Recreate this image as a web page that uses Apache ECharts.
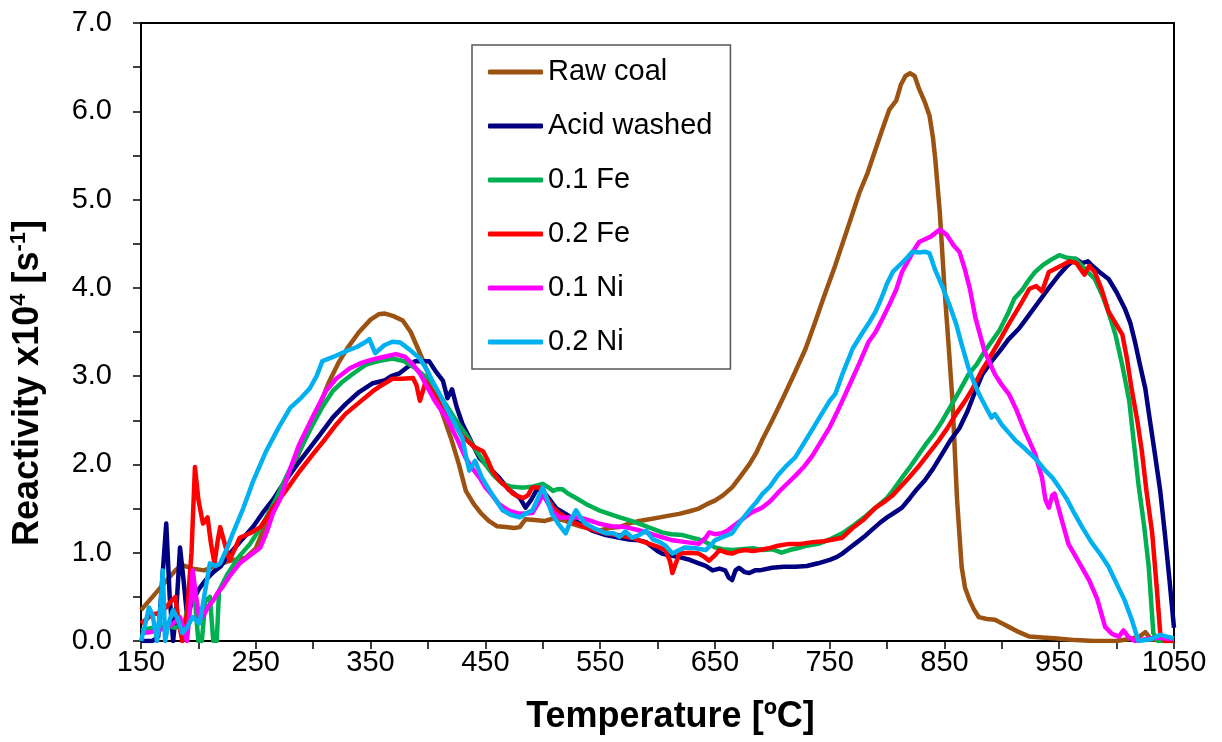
<!DOCTYPE html>
<html><head><meta charset="utf-8">
<script src="https://cdn.jsdelivr.net/npm/echarts@6/dist/echarts.min.js"></script>
<style>html,body{margin:0;padding:0;background:#fff}#c{width:1222px;height:742px}</style>
</head><body><div id="c"></div><script>
const seriesNames = ['Raw coal','Acid washed','0.1 Fe','0.2 Fe','0.1 Ni','0.2 Ni'];
const seriesColors = ['#9c5312','#000080','#00b050','#ff0000','#ff00ff','#00b0f0'];
const xTicks = [150,250,350,450,550,650,750,850,950,1050];
const yTicks = [0,1,2,3,4,5,6,7];

const rawCoal = [[150,0.35],[160,0.5],[170,0.65],[180,0.8],[186,0.86],[195,0.82],[205,0.8],[215,0.85],[225,0.9],[235,0.93],[241,0.94],[250,1.05],[258,1.3],[267,1.59],[276,1.81],[285,2.05],[295,2.35],[305,2.65],[314,2.94],[322,3.15],[330,3.32],[340,3.5],[350,3.64],[357,3.7],[362,3.71],[370,3.68],[378,3.63],[385,3.5],[395,3.2],[404,2.9],[412,2.6],[420,2.3],[427,2.0],[433,1.7],[440,1.55],[446,1.45],[453,1.36],[460,1.3],[468,1.29],[475,1.28],[480,1.29],[485,1.38],[493,1.37],[502,1.36],[510,1.39],[520,1.36],[527,1.32],[535,1.29],[549,1.25],[558,1.28],[567,1.29],[575,1.33],[584,1.36],[593,1.38],[602,1.40],[610,1.42],[619,1.44],[628,1.47],[636,1.50],[643,1.55],[650,1.59],[657,1.65],[665,1.74],[672,1.86],[680,2.0],[686,2.13],[691,2.27],[700,2.5],[710,2.77],[720,3.05],[729,3.31],[737,3.6],[745,3.9],[755,4.26],[765,4.65],[776,5.08],[783,5.3],[790,5.57],[796,5.8],[802,6.02],[808,6.12],[812,6.3],[816,6.40],[820,6.43],[824,6.40],[828,6.25],[833,6.1],[837,5.95],[840,5.7],[842,5.46],[846,4.85],[850,4.0],[854,3.28],[857,2.72],[861,1.6],[865,0.84],[868,0.6],[872,0.46],[876,0.35],[880,0.27],[887,0.25],[894,0.24],[900,0.2],[906,0.16],[915,0.1],[924,0.05],[935,0.04],[946,0.03],[955,0.02],[964,0.01],[980,0],[1000,0],[1010,0.02],[1020,0.05],[1025,0.1],[1030,0.02],[1050,0]];

const acidWashed = [[150,0],[160,0],[165,0.05],[168,0.6],[172,1.33],[175,0.5],[178,0],[181,0.4],[184,1.06],[187,0.7],[190,0.3],[195,0.45],[201,0.6],[207,0.7],[213,0.78],[219,0.84],[228,1.0],[238,1.15],[248,1.3],[256,1.45],[265,1.6],[275,1.8],[285,1.98],[295,2.15],[305,2.32],[317,2.53],[328,2.68],[340,2.82],[352,2.92],[362,2.95],[368,3.0],[375,3.03],[382,3.1],[389,3.17],[395,3.17],[401,3.17],[407,3.05],[413,2.95],[417,2.75],[421,2.85],[425,2.65],[430,2.46],[438,2.25],[445,2.07],[452,1.98],[462,1.85],[470,1.72],[480,1.62],[485,1.51],[490,1.6],[495,1.72],[500,1.70],[505,1.62],[512,1.5],[520,1.44],[530,1.35],[543,1.25],[555,1.2],[567,1.17],[575,1.15],[584,1.14],[590,1.12],[596,1.06],[600,1.02],[604,0.99],[610,0.97],[619,0.95],[628,0.92],[636,0.88],[642,0.85],[648,0.80],[654,0.82],[659,0.80],[662,0.72],[665,0.69],[668,0.8],[671,0.83],[676,0.78],[680,0.77],[685,0.8],[689,0.8],[700,0.83],[710,0.84],[720,0.84],[730,0.85],[740,0.88],[750,0.92],[756,0.95],[761,0.99],[767,1.05],[772,1.10],[780,1.18],[786,1.25],[793,1.33],[800,1.4],[806,1.45],[813,1.51],[820,1.62],[826,1.72],[833,1.82],[840,1.95],[848,2.12],[855,2.27],[863,2.41],[870,2.6],[876,2.8],[883,3.02],[890,3.15],[898,3.28],[906,3.42],[915,3.54],[923,3.68],[932,3.84],[941,4.0],[950,4.15],[957,4.25],[964,4.33],[970,4.28],[975,4.3],[978,4.26],[985,4.18],[993,4.10],[1000,3.95],[1007,3.77],[1012,3.6],[1016,3.39],[1020,3.15],[1025,2.86],[1029,2.5],[1033,2.15],[1038,1.7],[1042,1.22],[1046,0.7],[1050,0.15]];

const fe01 = [[150,0.12],[160,0.15],[170,0.18],[180,0.15],[188,0.2],[192,0.5],[195,0.8],[198,0.3],[200,0],[203,0],[206,0.45],[210,0.5],[213,0],[216,0],[218,0.57],[225,0.75],[235,0.95],[245,1.1],[255,1.3],[267,1.59],[278,1.9],[290,2.2],[300,2.46],[308,2.65],[317,2.83],[325,2.93],[335,3.03],[346,3.13],[357,3.17],[369,3.20],[379,3.17],[389,3.09],[397,3.0],[404,2.91],[412,2.75],[421,2.57],[427,2.45],[433,2.34],[441,2.18],[450,2.0],[457,1.88],[465,1.78],[472,1.75],[480,1.74],[485,1.74],[492,1.75],[500,1.78],[505,1.74],[509,1.70],[513,1.72],[517,1.72],[522,1.67],[529,1.62],[538,1.55],[549,1.48],[558,1.44],[567,1.40],[575,1.37],[584,1.33],[594,1.28],[604,1.23],[612,1.21],[622,1.20],[630,1.17],[639,1.14],[645,1.10],[650,1.06],[657,1.04],[665,1.03],[673,1.04],[683,1.05],[692,1.03],[700,1.04],[708,1.0],[715,1.03],[722,1.05],[730,1.08],[740,1.1],[750,1.15],[761,1.22],[770,1.3],[780,1.4],[790,1.51],[800,1.62],[806,1.72],[813,1.85],[820,1.97],[828,2.12],[835,2.25],[841,2.35],[848,2.49],[855,2.65],[863,2.83],[871,3.02],[878,3.13],[885,3.28],[891,3.39],[898,3.52],[905,3.7],[911,3.88],[918,3.98],[923,4.08],[929,4.18],[936,4.26],[943,4.32],[950,4.37],[957,4.34],[964,4.33],[972,4.22],[981,4.10],[988,3.9],[993,3.72],[999,3.47],[1005,3.12],[1011,2.72],[1015,2.25],[1019,1.78],[1024,1.3],[1028,0.84],[1032,0.09],[1036,0],[1050,0]];

const fe02 = [[150,0.2],[155,0.25],[160,0.3],[167,0.32],[172,0.38],[176,0.45],[180,0.5],[183,0.2],[186,0],[190,0.3],[194,1.0],[197,1.97],[200,1.6],[204,1.33],[208,1.40],[211,1.1],[214,0.88],[217,1.15],[219,1.29],[223,1.1],[227,0.91],[232,1.05],[236,1.17],[245,1.22],[254,1.29],[260,1.4],[265,1.51],[276,1.70],[288,1.92],[300,2.12],[310,2.28],[320,2.45],[328,2.57],[340,2.7],[352,2.83],[360,2.9],[369,2.97],[378,2.97],[387,2.98],[390,2.9],[393,2.72],[396,2.85],[398,2.94],[404,2.82],[410,2.72],[420,2.52],[430,2.32],[440,2.2],[448,2.15],[452,2.05],[456,1.93],[462,1.82],[468,1.75],[474,1.67],[478,1.64],[483,1.62],[487,1.65],[491,1.74],[497,1.74],[502,1.65],[509,1.51],[514,1.45],[520,1.40],[528,1.34],[537,1.29],[546,1.25],[555,1.22],[565,1.2],[578,1.17],[586,1.13],[593,1.10],[600,1.07],[607,1.03],[611,0.9],[613,0.77],[616,0.88],[619,0.99],[628,1.0],[636,0.99],[641,0.95],[645,0.91],[650,0.97],[654,1.03],[660,1.0],[665,0.99],[671,1.02],[677,1.03],[683,1.02],[689,1.03],[697,1.05],[705,1.08],[715,1.1],[725,1.1],[735,1.12],[745,1.13],[753,1.15],[761,1.17],[770,1.28],[780,1.38],[790,1.51],[798,1.58],[805,1.65],[812,1.75],[819,1.85],[827,1.97],[836,2.12],[845,2.27],[852,2.4],[860,2.57],[868,2.72],[875,2.87],[882,3.05],[889,3.2],[897,3.38],[906,3.59],[912,3.72],[918,3.85],[924,3.99],[930,4.02],[935,3.96],[941,4.18],[947,4.22],[953,4.26],[959,4.30],[965,4.28],[972,4.15],[976,4.25],[981,4.18],[987,3.98],[993,3.73],[999,3.6],[1005,3.47],[1009,3.2],[1013,2.86],[1018,2.5],[1022,2.15],[1026,1.7],[1031,1.22],[1035,0.6],[1038,0.09],[1042,0],[1050,0]];

const ni01 = [[150,0.09],[158,0.1],[165,0.12],[172,0.15],[178,0.2],[184,0.27],[188,0.1],[190,0],[193,0.4],[195,0.8],[198,0.5],[201,0.24],[205,0.3],[209,0.4],[213,0.46],[217,0.55],[221,0.61],[228,0.75],[236,0.88],[245,0.97],[254,1.06],[260,1.25],[265,1.45],[271,1.6],[280,1.95],[288,2.23],[300,2.55],[311,2.83],[320,2.97],[332,3.09],[342,3.15],[352,3.19],[362,3.22],[372,3.25],[380,3.22],[387,3.13],[393,3.03],[398,2.91],[406,2.72],[416,2.53],[425,2.3],[433,2.07],[439,1.95],[445,1.85],[450,1.74],[456,1.65],[462,1.55],[470,1.48],[480,1.44],[491,1.45],[497,1.58],[500,1.66],[505,1.55],[510,1.45],[515,1.40],[525,1.40],[532,1.40],[540,1.37],[549,1.33],[560,1.30],[572,1.29],[582,1.26],[593,1.22],[603,1.18],[613,1.14],[625,1.12],[636,1.10],[642,1.17],[645,1.23],[650,1.21],[656,1.22],[661,1.25],[665,1.29],[672,1.36],[680,1.44],[686,1.48],[691,1.51],[698,1.58],[705,1.68],[712,1.77],[720,1.87],[728,1.98],[735,2.1],[742,2.25],[750,2.42],[756,2.58],[761,2.72],[768,2.92],[776,3.15],[784,3.39],[790,3.5],[796,3.65],[802,3.81],[808,3.98],[813,4.18],[818,4.3],[824,4.44],[828,4.52],[833,4.55],[838,4.58],[842,4.62],[846,4.66],[852,4.6],[858,4.48],[863,4.41],[868,4.2],[872,4.0],[877,3.66],[885,3.28],[894,3.02],[900,2.9],[906,2.8],[912,2.64],[920,2.38],[929,2.12],[935,1.85],[938,1.6],[941,1.51],[944,1.65],[946,1.67],[952,1.38],[958,1.10],[966,0.92],[976,0.69],[983,0.48],[990,0.16],[996,0.08],[1002,0.05],[1006,0.12],[1010,0.05],[1016,0],[1025,0.02],[1035,0.04],[1050,0.02]];

const ni02 = [[150,0],[153,0.15],[157,0.38],[160,0.3],[164,0],[167,0.4],[169,0.8],[171,0],[174,0.2],[178,0.35],[182,0.25],[186,0.09],[190,0.15],[195,0.27],[201,0.2],[205,0.5],[210,0.88],[215,0.85],[219,0.88],[225,1.05],[230,1.22],[239,1.5],[248,1.82],[259,2.15],[270,2.42],[280,2.64],[290,2.76],[297,2.86],[303,3.0],[308,3.17],[318,3.22],[328,3.28],[338,3.33],[346,3.39],[349,3.42],[354,3.26],[362,3.35],[369,3.39],[376,3.38],[384,3.30],[393,3.20],[400,3.05],[404,2.94],[410,2.8],[416,2.64],[423,2.47],[430,2.30],[433,2.1],[436,1.93],[441,2.04],[447,1.85],[454,1.70],[460,1.58],[465,1.48],[472,1.43],[480,1.40],[486,1.45],[491,1.48],[496,1.62],[500,1.74],[504,1.6],[508,1.44],[514,1.32],[520,1.22],[524,1.35],[529,1.48],[533,1.4],[537,1.33],[546,1.27],[555,1.22],[562,1.22],[567,1.18],[572,1.24],[578,1.17],[584,1.2],[590,1.25],[596,1.15],[602,1.12],[607,1.08],[613,0.99],[619,1.03],[624,1.06],[633,1.05],[642,1.03],[646,1.08],[650,1.14],[657,1.18],[665,1.22],[672,1.35],[680,1.48],[686,1.57],[691,1.66],[698,1.75],[705,1.88],[712,1.98],[720,2.08],[728,2.25],[736,2.42],[742,2.55],[750,2.72],[755,2.8],[761,3.02],[770,3.31],[778,3.48],[785,3.62],[790,3.73],[795,3.88],[800,4.05],[805,4.18],[812,4.27],[818,4.35],[822,4.41],[828,4.40],[833,4.41],[837,4.39],[842,4.2],[848,4.02],[854,3.82],[860,3.6],[865,3.36],[871,3.09],[876,2.92],[880,2.8],[886,2.65],[891,2.53],[894,2.57],[900,2.45],[906,2.36],[912,2.27],[920,2.18],[929,2.07],[938,1.93],[944,1.85],[950,1.74],[957,1.6],[963,1.45],[970,1.29],[978,1.12],[986,0.98],[993,0.84],[1000,0.65],[1007,0.46],[1013,0.25],[1019,0],[1030,0.02],[1038,0.07],[1044,0.05],[1050,0.03]];

const allData = [rawCoal, acidWashed, fe01, fe02, ni01, ni02];
const FONT = '"Liberation Sans", Arial, sans-serif';

const chart = echarts.init(document.getElementById('c'), null, {renderer: 'canvas'});
chart.setOption({
  animation: false,
  backgroundColor: '#fff',
  grid: {left: 140, right: 48, top: 23, bottom: 101, show: true, borderColor: '#000', borderWidth: 2, backgroundColor: 'transparent'},
  legend: {
    orient: 'vertical', left: 472, top: 45,
    data: seriesNames,
    icon: 'roundRect',
    itemWidth: 55, itemHeight: 5, itemGap: 24,
    padding: [12, 18, 12, 16],
    borderColor: '#555', borderWidth: 1.5,
    textStyle: {fontFamily: FONT, fontSize: 29, color: '#000', lineHeight: 30}
  },
  xAxis: {
    type: 'value', min: 150, max: 1050, interval: 50,
    name: 'Temperature [ºC]', nameLocation: 'middle', nameGap: 58,
    nameTextStyle: {fontFamily: FONT, fontSize: 36, fontWeight: 'bold', color: '#000', padding: [0, 0, 0, 26]},
    axisLine: {lineStyle: {color: '#000', width: 2}},
    axisTick: {show: true, length: 8, lineStyle: {color: '#000', width: 1.5}},
    axisLabel: {fontFamily: FONT, fontSize: 29, color: '#000', margin: 7,
      formatter: v => xTicks.includes(v) ? String(v) : ''},
    splitLine: {show: false}
  },
  yAxis: {
    type: 'value', min: 0, max: 7, interval: 0.5,
    name: '{b|Reactivity x10}{s|4}{b| [s}{s|-1}{b|]}', nameLocation: 'middle', nameGap: 93,
    nameTextStyle: {fontFamily: FONT, fontSize: 36, fontWeight: 'bold', color: '#000', padding: [0, 102, 0, 0],
      rich: {
        b: {fontFamily: FONT, fontSize: 36, fontWeight: 'bold', color: '#000', lineHeight: 40},
        s: {fontFamily: FONT, fontSize: 22, fontWeight: 'bold', color: '#000', verticalAlign: 'top', lineHeight: 24}
      }},
    axisLine: {show: true, lineStyle: {color: '#000', width: 2}},
    axisTick: {show: true, length: 8, lineStyle: {color: '#000', width: 1.5}},
    axisLabel: {fontFamily: FONT, fontSize: 29, color: '#000', margin: 29,
      formatter: v => yTicks.includes(v) ? v.toFixed(1) : ''},
    splitLine: {show: false}
  },
  series: seriesNames.map((n, i) => ({
    name: n, type: 'line', data: allData[i], symbol: 'none', showSymbol: false,
    color: seriesColors[i],
    lineStyle: {color: seriesColors[i], width: 4.5, join: 'round'}
  }))
});
</script></body></html>
